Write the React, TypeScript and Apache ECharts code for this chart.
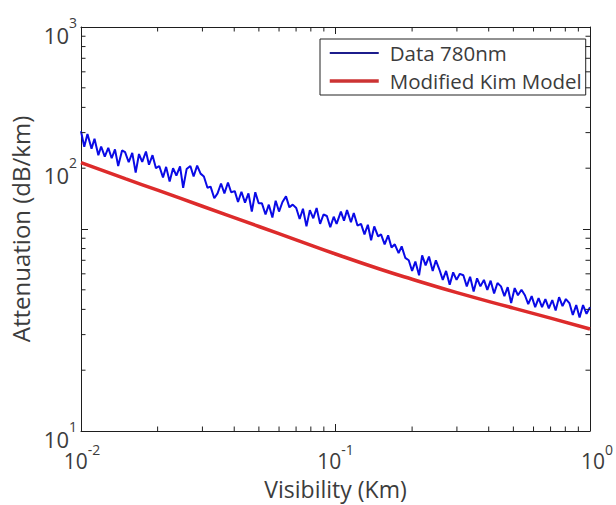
import { useEffect, useRef } from 'react';
import * as echarts from 'echarts';

const FONT = '"Open Sans", "Noto Sans", sans-serif';
const TEXT = '#3c3c3c';
const AXIS = '#1e1e1e';

// Visibility (km) sample positions of the measured 780 nm data
const blueX = [
  0.0100, 0.0103, 0.0106, 0.0110, 0.0113, 0.0117, 0.0120, 0.0124, 0.0128, 0.0132,
  0.0136, 0.0140, 0.0145, 0.0149, 0.0154, 0.0159, 0.0164, 0.0169, 0.0174, 0.0180,
  0.0185, 0.0191, 0.0197, 0.0203, 0.0210, 0.0216, 0.0223, 0.0230, 0.0237, 0.0245,
  0.0252, 0.0260, 0.0269, 0.0277, 0.0286, 0.0295, 0.0304, 0.0314, 0.0323, 0.0334,
  0.0344, 0.0355, 0.0366, 0.0378, 0.0389, 0.0402, 0.0414, 0.0427, 0.0441, 0.0455,
  0.0469, 0.0484, 0.0499, 0.0514, 0.0531, 0.0547, 0.0565, 0.0582, 0.0600, 0.0619,
  0.0639, 0.0659, 0.0679, 0.0701, 0.0723, 0.0745, 0.0769, 0.0793, 0.0818, 0.0843,
  0.0870, 0.0897, 0.0925, 0.0954, 0.0984,
  0.101, 0.105, 0.108, 0.111, 0.115, 0.118, 0.122, 0.126, 0.130, 0.134,
  0.138, 0.142, 0.147, 0.151, 0.156, 0.161, 0.166, 0.171, 0.177, 0.182,
  0.188, 0.194, 0.200, 0.206, 0.213, 0.219, 0.226, 0.233, 0.241, 0.248,
  0.256, 0.264, 0.272, 0.281, 0.290, 0.299, 0.308, 0.318, 0.328, 0.338,
  0.349, 0.360, 0.371, 0.383, 0.395, 0.407, 0.420, 0.433, 0.447, 0.461,
  0.475, 0.490, 0.506, 0.521, 0.538, 0.555, 0.572, 0.590, 0.609, 0.628,
  0.648, 0.668, 0.689, 0.711, 0.733, 0.756, 0.780, 0.804, 0.830, 0.856,
  0.883, 0.910, 0.939, 0.969, 1.000,
];

// Attenuation (dB/km) of the measured 780 nm data
const blueY = [
  305, 255, 295, 250, 280,
  232,
  256, 228, 252, 224, 248, 205, 245,
  240, 214, 238, 190, 235, 215, 242, 208, 232,
  200,
  205, 180, 203, 172, 200, 184, 204, 160, 198,
  205, 182, 206, 188,
  182, 160, 162, 142, 150,
  168, 150, 170, 152,
  154, 136, 153, 135, 150, 122, 152, 134,
  134, 118, 132, 114,
  138, 122, 136,
  145, 128, 132,
  127, 112, 126, 103, 124, 113, 127, 106, 118,
  116, 102, 115, 106,
  122, 110, 124, 108, 120, 104,
  106, 94, 105, 88, 103, 92,
  94, 84, 93, 81,
  84, 76, 82, 72,
  70, 62, 69, 59,
  74, 66, 73, 62, 70,
  63, 56, 62, 53, 61, 56, 60,
  59, 52, 58, 49, 57, 52,
  56, 50, 55.5, 48, 54,
  52, 46.5, 51.5, 43, 51, 47, 50,
  47, 42.5, 46.5, 41,
  45.5, 41, 45, 40.5, 44.5, 39.5,
  46, 41.5, 45,
  43, 37.5, 42, 36.5, 42, 38, 41,
];

// Modified Kim model curve
const redX = [0.01, 0.015, 0.02, 0.03, 0.05, 0.07, 0.1, 0.15, 0.2, 0.3, 0.5, 0.7, 1.0];
const redY = [213, 177, 155.7, 129.6, 102.9, 88.4, 75.2, 63.2, 56.4, 48.4, 40.6, 36.2, 32.0];

// Axis ticks
const xMinor = [0.02, 0.03, 0.04, 0.05, 0.06, 0.07, 0.08, 0.09, 0.2, 0.3, 0.4, 0.5, 0.6, 0.7, 0.8, 0.9];
const yMinor = [20, 30, 40, 50, 60, 70, 80, 90, 200, 300, 400, 500, 600, 700, 800, 900];

const seriesNames = ['Data 780nm', 'Modified Kim Model'];

export default function App() {
  const ref = useRef<HTMLDivElement>(null);

  useEffect(() => {
    if (!ref.current) return;
    const chart = echarts.init(ref.current, null, { renderer: 'svg' });

    const richY = {
      b: { fontSize: 22, lineHeight: 40, fontFamily: FONT, color: TEXT },
      s: { fontSize: 14, lineHeight: 16, verticalAlign: 'top', fontFamily: FONT, color: TEXT },
      gap: { fontSize: 1, lineHeight: 16 },
      gapBig: { fontSize: 1, lineHeight: 108 },
    };
    const richX = {
      b: { fontSize: 21, lineHeight: 38, fontFamily: FONT, color: TEXT },
      s: { fontSize: 14, lineHeight: 16, verticalAlign: 'top', fontFamily: FONT, color: TEXT },
      sp2: { width: 2, fontSize: 1 },
      sp14: { width: 14, fontSize: 1 },
    };

    const xFmt = (v: number) => {
      const e = Math.round(Math.log10(v));
      if (e === -2) return `{sp2| }{b|10}{s|${e}}`;
      if (e === 0) return `{sp14| }{b|10}{s|${e}}`;
      return `{b|10}{s|${e}}`;
    };
    const yFmt = (v: number) => {
      const e = Math.round(Math.log10(v));
      if (e === 2) return `{b|10}{s|${e}}\n{gapBig| }`;
      return `{gap| }\n{b|10}{s|${e}}`;
    };

    const minorTick = (axis: 'x' | 'y') => (params: any, api: any) => {
      const cs = params.coordSys;
      const p = api.coord([api.value(0), api.value(1)]);
      const L = 4.5;
      const style = { stroke: AXIS, lineWidth: 1 };
      if (axis === 'x') {
        const bottom = cs.y + cs.height;
        return {
          type: 'group',
          children: [
            { type: 'line', shape: { x1: p[0], y1: bottom, x2: p[0], y2: bottom - L }, style },
            { type: 'line', shape: { x1: p[0], y1: cs.y, x2: p[0], y2: cs.y + L }, style },
          ],
        };
      }
      const right = cs.x + cs.width;
      return {
        type: 'group',
        children: [
          { type: 'line', shape: { x1: cs.x, y1: p[1], x2: cs.x + L, y2: p[1] }, style },
          { type: 'line', shape: { x1: right, y1: p[1], x2: right - L, y2: p[1] }, style },
        ],
      };
    };

    const axisCommon = {
      type: 'log',
      logBase: 10,
      axisLine: { show: true, lineStyle: { color: AXIS, width: 1 } },
      axisTick: { show: true, inside: true, length: 7, lineStyle: { color: AXIS } },
      splitLine: { show: false },
      minorTick: { show: false },
    };

    chart.setOption({
      animation: false,
      backgroundColor: '#ffffff',
      grid: { left: 81, right: 15, top: 27, bottom: 70, containLabel: false },
      legend: {
        show: true,
        data: [
          { name: seriesNames[0], lineStyle: { color: '#1c1c8c', width: 2 }, itemStyle: { opacity: 0 } },
          { name: seriesNames[1], lineStyle: { color: '#cc3333', width: 3.5 }, itemStyle: { opacity: 0 } },
        ],
        orient: 'vertical',
        left: 320,
        top: 39,
        padding: [0, 4, 0, 8],
        itemWidth: 49,
        itemHeight: 14,
        itemGap: 0,
        borderColor: '#222',
        borderWidth: 1,
        backgroundColor: '#fff',
        textStyle: { fontFamily: FONT, fontSize: 20.5, lineHeight: 28, color: TEXT, padding: [0, 0, 0, 6] },
      },
      xAxis: [
        {
          ...axisCommon,
          position: 'bottom',
          min: 0.01,
          max: 1,
          axisLabel: { show: true, margin: 11, formatter: xFmt, rich: richX, color: TEXT },
          name: 'Visibility (Km)',
          nameLocation: 'middle',
          nameGap: 46,
          nameTextStyle: { fontFamily: FONT, fontSize: 23, color: TEXT },
        },
        {
          ...axisCommon,
          position: 'top',
          min: 0.01,
          max: 1,
          axisLabel: { show: false },
        },
      ],
      yAxis: [
        {
          ...axisCommon,
          position: 'left',
          min: 10,
          max: 1000,
          axisLabel: { show: true, margin: 4, formatter: yFmt, rich: richY, color: TEXT },
          name: 'Attenuation (dB/km)',
          nameLocation: 'middle',
          nameGap: 35,
          nameTextStyle: { fontFamily: FONT, fontSize: 24, color: TEXT },
        },
        {
          ...axisCommon,
          position: 'right',
          min: 10,
          max: 1000,
          axisLabel: { show: false },
        },
      ],
      series: [
        {
          type: 'custom',
          coordinateSystem: 'cartesian2d',
          silent: true,
          data: xMinor.map((v) => [v, 100]),
          renderItem: minorTick('x'),
          z: 5,
        },
        {
          type: 'custom',
          coordinateSystem: 'cartesian2d',
          silent: true,
          data: yMinor.map((v) => [0.1, v]),
          renderItem: minorTick('y'),
          z: 5,
        },
        {
          name: seriesNames[0],
          type: 'line',
          symbol: 'none',
          showSymbol: false,
          data: blueX.map((x, i) => [x, blueY[i]]),
          lineStyle: { color: '#0a0ae6', width: 2 },
          itemStyle: { color: '#0a0ae6' },
          z: 3,
        },
        {
          name: seriesNames[1],
          type: 'line',
          symbol: 'none',
          showSymbol: false,
          smooth: true,
          data: redX.map((x, i) => [x, redY[i]]),
          lineStyle: { color: '#dd2b2b', width: 3.5 },
          itemStyle: { color: '#dd2b2b' },
          z: 4,
        },
      ],
    });

    return () => chart.dispose();
  }, []);

  return <div ref={ref} style={{ position: 'fixed', left: 0, top: 0, width: 616, height: 505 }} />;
}
